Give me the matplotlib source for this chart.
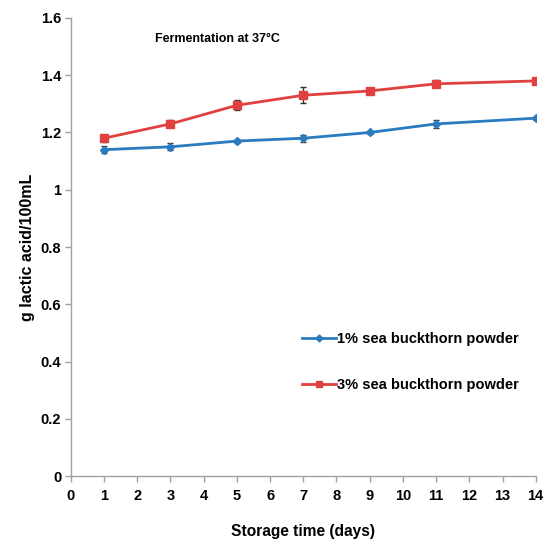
import matplotlib
matplotlib.use("Agg")
import matplotlib.pyplot as plt
from matplotlib.lines import Line2D

plt.rcParams["font.family"] = ["Liberation Sans", "DejaVu Sans"]

days = [1, 3, 5, 7, 9, 11, 14]
pct1 = [1.14, 1.15, 1.17, 1.18, 1.20, 1.23, 1.25]
pct1_err = [0.012, 0.012, 0.005, 0.012, 0.004, 0.014, 0.005]
pct3 = [1.18, 1.23, 1.295, 1.33, 1.345, 1.37, 1.38]
pct3_err = [0.012, 0.012, 0.018, 0.028, 0.005, 0.012, 0.008]

x_ticks = list(range(0, 15))
y_ticks = [0, 0.2, 0.4, 0.6, 0.8, 1, 1.2, 1.4, 1.6]
y_labels = ["0", "0.2", "0.4", "0.6", "0.8", "1", "1.2", "1.4", "1.6"]

BLUE = "#2b7bc0"
RED = "#e0413f"

fig = plt.figure(figsize=(5.45, 5.43), dpi=100)
ax = fig.add_axes([0.130, 0.123, 0.853, 0.844])

ax.errorbar(days, pct1, yerr=pct1_err, color=BLUE, lw=2, marker="D", ms=4,
            ecolor="#333333", elinewidth=1, capsize=2.5, capthick=1, zorder=3)
ax.errorbar(days, pct3, yerr=pct3_err, color=RED, lw=2, marker="s", ms=6,
            ecolor="#333333", elinewidth=1, capsize=2.5, capthick=1, zorder=3)

ax.set_xlim(0, 14)
ax.set_ylim(0, 1.6)
ax.set_xticks(x_ticks)
ax.set_yticks(y_ticks)
ax.set_yticklabels(y_labels)

for side in ["top", "right"]:
    ax.spines[side].set_visible(False)
for side in ["left", "bottom"]:
    ax.spines[side].set_color("#a0a0a0")
    ax.spines[side].set_linewidth(1)
ax.tick_params(direction="out", length=4, color="#a0a0a0", width=1,
               labelsize=10.5, pad=3)
for lbl in ax.get_xticklabels() + ax.get_yticklabels():
    lbl.set_fontweight("bold")
ax.tick_params(axis="x", pad=5)

ax.set_xlabel("Storage time (days)", fontsize=11.2, fontweight="bold", labelpad=15)
ax.set_ylabel("g lactic acid/100mL", fontsize=11.5, fontweight="bold", labelpad=4)

ax.text(0.181, 0.955, "Fermentation at 37°C", transform=ax.transAxes,
        fontsize=9, fontweight="bold", ha="left", va="center")

handles = [
    Line2D([], [], color=BLUE, lw=2, marker="D", ms=3.5),
    Line2D([], [], color=RED, lw=2, marker="s", ms=5),
]
labels = ["1% sea buckthorn powder", "3% sea buckthorn powder"]
ax.legend(handles, labels, loc="lower left", bbox_to_anchor=(0.47, 0.155),
          frameon=False, handlelength=2.3, handletextpad=0.05,
          labelspacing=2.2, prop={"size": 10.5, "weight": "bold"})

fig.savefig("out.png", dpi=100)
